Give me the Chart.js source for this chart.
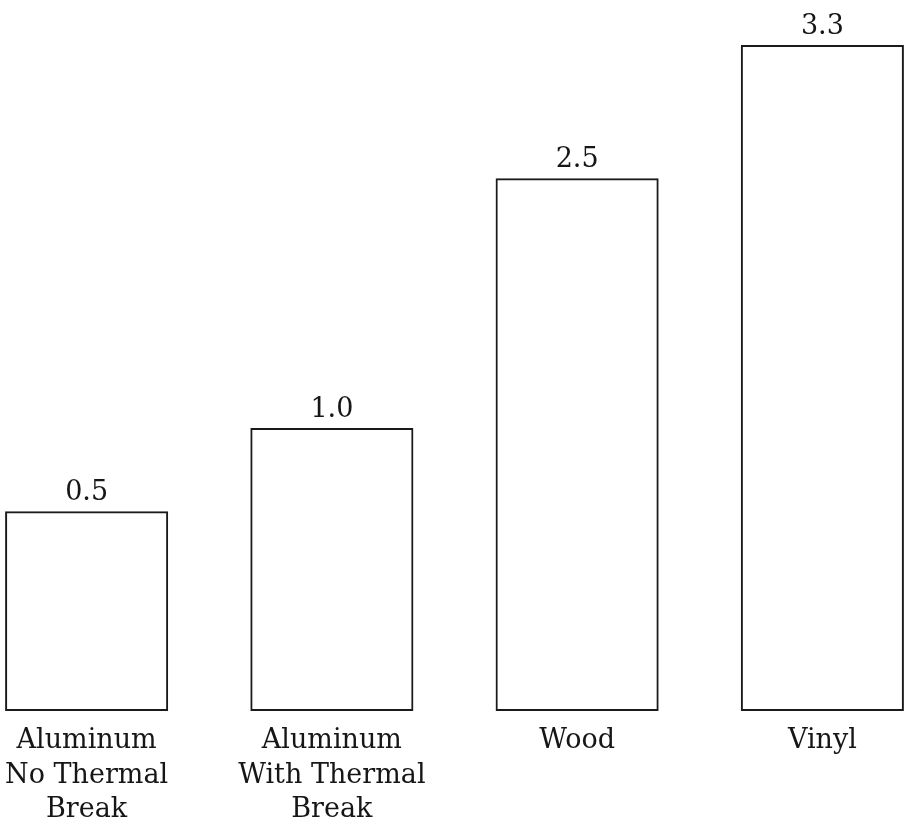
<!DOCTYPE html>
<html>
<head>
<meta charset="utf-8">
<title>Frame materials</title>
<script src="https://cdn.jsdelivr.net/npm/chart.js@4"></script>
<style>
    html, body { margin: 0; padding: 0; background: #fff; overflow: hidden; width: 909px; height: 824px; }
    /* the plot runs a little past both edges of the page */
    .chart-box { position: absolute; left: -36px; top: 0; width: 981px; height: 824px; }
</style>
</head>
<body>
<div class="chart-box"><canvas id="frameChart"></canvas></div>
<script>
// ===========================
// Data
// ===========================
const categories = [
    ["Aluminum", "No Thermal", "Break"],
    ["Aluminum", "With Thermal", "Break"],
    "Wood",
    "Vinyl"
];
const values = [0.5, 1.0, 2.5, 3.3];
const valueLabels = ["0.5", "1.0", "2.5", "3.3"];

// value axis range (bars start from the bottom of the range, not from zero)
const axisMin = -0.7;
const axisMax = 3.57;

const textColor = "#161616";
const serif = '"DejaVu Serif", "Liberation Serif", serif';

// ===========================
// Value labels over the bars
// ===========================
const valueLabelPlugin = {
    id: "valueLabels",
    afterDatasetsDraw(chart) {
        const ctx = chart.ctx;
        const meta = chart.getDatasetMeta(0);
        ctx.save();
        ctx.font = "27px " + serif;
        ctx.fillStyle = textColor;
        ctx.textAlign = "center";
        ctx.textBaseline = "alphabetic";
        meta.data.forEach(function (bar, i) {
            ctx.fillText(valueLabels[i], bar.x, bar.y - 11);
        });
        ctx.restore();
    }
};

// ===========================
// Chart
// ===========================
const ctx = document.getElementById("frameChart").getContext("2d");

new Chart(ctx, {
    type: "bar",
    data: {
        labels: categories,
        datasets: [{
            data: values,
            base: axisMin,
            backgroundColor: "rgba(255, 255, 255, 0)",
            borderColor: "#1a1a1a",
            borderWidth: 2,
            borderSkipped: false,
            barPercentage: 0.665,
            categoryPercentage: 1.0
        }]
    },
    options: {
        responsive: true,
        maintainAspectRatio: false,
        animation: false,
        layout: { padding: 0 },
        plugins: {
            legend: { display: false },
            tooltip: { enabled: false }
        },
        scales: {
            x: {
                grid: { display: false },
                border: { display: false },
                ticks: {
                    color: textColor,
                    padding: 5,
                    font: { family: serif, size: 27, lineHeight: 1.28 }
                },
                afterFit: function (scale) {
                    scale.height = 113;
                }
            },
            y: {
                display: false,
                min: axisMin,
                max: axisMax
            }
        }
    },
    plugins: [valueLabelPlugin]
});
</script>
</body>
</html>
